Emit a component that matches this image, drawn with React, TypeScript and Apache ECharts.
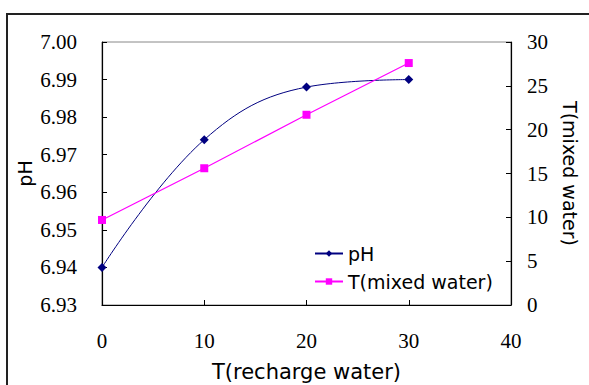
import React, { useEffect, useRef } from "react";
import * as echarts from "echarts";

const xValues = [0, 10, 20, 30];
const phValues = [6.94, 6.974, 6.988, 6.99];
const tMixedValues = [9.7, 15.6, 21.7, 27.6];

export default function App() {
  const ref = useRef<HTMLDivElement>(null);
  useEffect(() => {
    const chart = echarts.init(ref.current!, null, { renderer: "svg" });
    const serif = "Liberation Serif";
    const sans = "DejaVu Sans";
    chart.setOption({
      animation: false,
      backgroundColor: "#ffffff",
      graphic: [
        {
          type: "rect",
          shape: { x: 7, y: 14, width: 620, height: 420 },
          style: { fill: "none", stroke: "#222", lineWidth: 2 },
          z: 0,
        },
      ],
      grid: {
        left: 102,
        right: 78,
        top: 42,
        bottom: 80,
        outerBoundsMode: "none",
        containLabel: false,
        show: true,
        borderColor: "#888",
        borderWidth: 1,
        backgroundColor: "transparent",
      },
      legend: {
        orient: "vertical",
        left: 309,
        top: 239,
        itemWidth: 28,
        itemHeight: 8,
        itemGap: 9,
        textStyle: { fontFamily: sans, fontSize: 19, color: "#000" },
        data: ["pH", "T(mixed water)"],
      },
      xAxis: {
        type: "value",
        min: 0,
        max: 40,
        interval: 10,
        name: "T(recharge water)",
        nameLocation: "middle",
        nameGap: 56,
        nameMoveOverlap: false,
        nameTextStyle: { fontFamily: sans, fontSize: 21, color: "#000" },
        axisLine: { show: true, lineStyle: { color: "#000", width: 1.2 } },
        axisTick: { show: true, inside: true, length: 5, lineStyle: { color: "#000" } },
        axisLabel: { fontFamily: serif, fontSize: 21, color: "#000", margin: 25 },
        splitLine: { show: false },
      },
      yAxis: [
        {
          type: "value",
          min: 6.93,
          max: 7.0,
          interval: 0.01,
          name: "pH",
          nameLocation: "middle",
          nameGap: 68,
          nameMoveOverlap: false,
          nameRotate: 90,
          nameTextStyle: { fontFamily: sans, fontSize: 19, color: "#000" },
          axisLine: { show: true, lineStyle: { color: "#000", width: 1.2 } },
          axisTick: { show: true, inside: true, length: 5, lineStyle: { color: "#000" } },
          axisLabel: {
            fontFamily: serif,
            fontSize: 21,
            color: "#000",
            margin: 25,
            formatter: (v: number) => v.toFixed(2),
          },
          splitLine: { show: false },
        },
        {
          type: "value",
          min: 0,
          max: 30,
          interval: 5,
          position: "right",
          name: "T(mixed water)",
          nameLocation: "middle",
          nameGap: 49,
          nameMoveOverlap: false,
          nameRotate: -90,
          nameTextStyle: { fontFamily: sans, fontSize: 19, color: "#000" },
          axisLine: { show: true, lineStyle: { color: "#000", width: 1.2 } },
          axisTick: { show: true, inside: true, length: 5, lineStyle: { color: "#000" } },
          axisLabel: { fontFamily: serif, fontSize: 21, color: "#000", margin: 16 },
          splitLine: { show: false },
        },
      ],
      series: [
        {
          name: "pH",
          type: "line",
          yAxisIndex: 0,
          smooth: 0.4,
          data: xValues.map((x, i) => [x, phValues[i]]),
          symbol: "diamond",
          symbolSize: 9,
          lineStyle: { color: "#000080", width: 1 },
          itemStyle: { color: "#000080" },
        },
        {
          name: "T(mixed water)",
          type: "line",
          yAxisIndex: 1,
          data: xValues.map((x, i) => [x, tMixedValues[i]]),
          symbol: "rect",
          symbolSize: 8,
          lineStyle: { color: "#ff00ff", width: 1.2 },
          itemStyle: { color: "#ff00ff" },
        },
      ],
    });
    return () => chart.dispose();
  }, []);
  return (
    <div
      ref={ref}
      style={{ position: "fixed", left: 0, top: 0, width: 589, height: 385 }}
    />
  );
}
